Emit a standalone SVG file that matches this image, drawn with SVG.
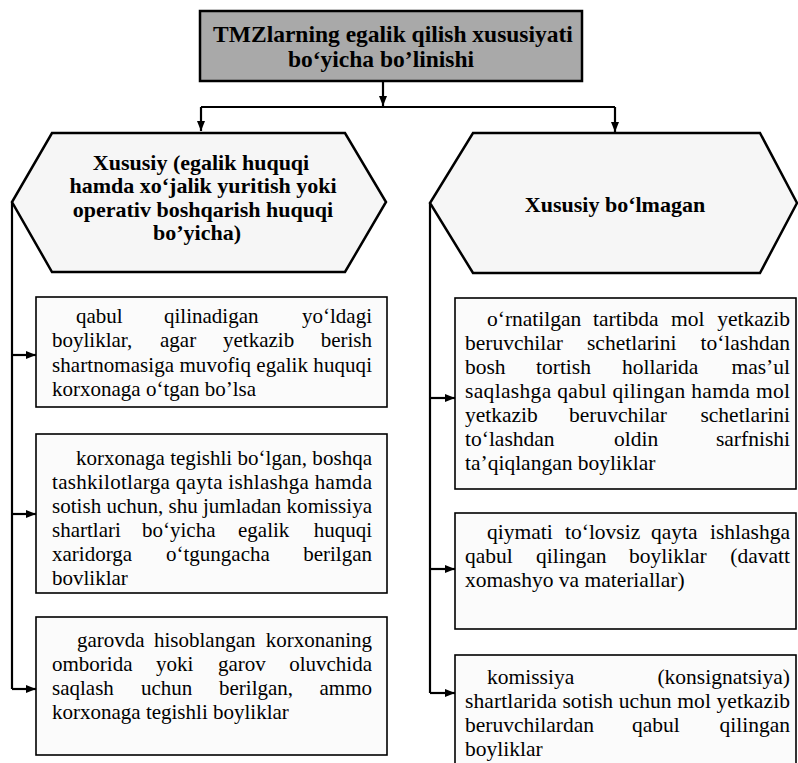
<svg xmlns="http://www.w3.org/2000/svg" width="798" height="763" viewBox="0 0 798 763">
<style>
text{font-family:"Liberation Serif","Times New Roman",serif;fill:#000}
.bg{fill:#ffffff}
.title{fill:#a9a9a9;stroke:#000;stroke-width:2.5}
.hex{fill:#f6f6f6;stroke:#000;stroke-width:2.5;stroke-linejoin:miter}
.box{fill:#fbfbfb;stroke:#000;stroke-width:1.6}
.conn{fill:none;stroke:#000;stroke-width:2.2}
.tt{font-weight:bold;font-size:23.5px;text-anchor:middle}
.ht{font-weight:bold;font-size:22px;text-anchor:middle}
.tl{font-size:21px}
.tr{font-size:21.5px}
.e{text-anchor:end}
</style>
<defs>
<marker id="arr" markerUnits="userSpaceOnUse" markerWidth="12" markerHeight="10" refX="10" refY="4" orient="auto">
<path d="M0,0 L10,4 L0,8 Z" fill="#000"/>
</marker>
</defs>
<rect class="bg" x="0" y="0" width="798" height="763"/>

<g id="connectors">
<path class="conn" d="M383,82 V106" marker-end="url(#arr)"/>
<path class="conn" d="M201,107 H615"/>
<path class="conn" d="M201,107 V131" marker-end="url(#arr)"/>
<path class="conn" d="M615,107 V132" marker-end="url(#arr)"/>
<path class="conn" d="M12,202 V689"/>
<path class="conn" d="M12,355 H36" marker-end="url(#arr)"/>
<path class="conn" d="M12,514 H36" marker-end="url(#arr)"/>
<path class="conn" d="M12,689 H36" marker-end="url(#arr)"/>
<path class="conn" d="M430,203 V693"/>
<path class="conn" d="M430,398 H455" marker-end="url(#arr)"/>
<path class="conn" d="M430,569 H455" marker-end="url(#arr)"/>
<path class="conn" d="M430,693 H455" marker-end="url(#arr)"/>
</g>

<g id="root">
<rect class="title" x="200" y="11" width="382" height="70"/>
<text class="tt" x="393" y="42">TMZlarning egalik qilish xususiyati</text>
<text class="tt" x="381" y="67">bo‘yicha bo’linishi</text>
</g>

<g id="xususiy">
<polygon class="hex" points="52,133 345,133 386,202 345,272 52,272 12,202"/>
<text class="ht" x="201" y="170">Xususiy (egalik huquqi</text>
<text class="ht" x="203" y="193">hamda xo‘jalik yuritish yoki</text>
<text class="ht" x="203" y="217">operativ boshqarish huquqi</text>
<text class="ht" x="197" y="240">bo’yicha)</text>
</g>

<g id="xususiy-bolmagan">
<polygon class="hex" points="473,133 760,133 797,203 760,273 473,273 430,203"/>
<text class="ht" x="615" y="212">Xususiy bo‘lmagan</text>
</g>

<g id="l1">
<rect class="box" x="36" y="297" width="351" height="110"/>
<text class="tl" y="323"><tspan x="76">qabul</tspan><tspan x="164">qilinadigan</tspan><tspan x="372" class="e">yo‘ldagi</tspan></text>
<text class="tl" y="347"><tspan x="52">boyliklar,</tspan><tspan x="160">agar</tspan><tspan x="223">yetkazib</tspan><tspan x="372" class="e">berish</tspan></text>
<text class="tl" x="52" y="372" textLength="320" lengthAdjust="spacing">shartnomasiga muvofiq egalik huquqi</text>
<text class="tl" x="52" y="396">korxonaga o‘tgan bo’lsa</text>
</g>

<g id="l2">
<rect class="box" x="36" y="434" width="351" height="159"/>
<text class="tl" x="76" y="465" textLength="296" lengthAdjust="spacing">korxonaga tegishli bo‘lgan, boshqa</text>
<text class="tl" x="52" y="489" textLength="320" lengthAdjust="spacing">tashkilotlarga qayta ishlashga hamda</text>
<text class="tl" x="52" y="513" textLength="320" lengthAdjust="spacing">sotish uchun, shu jumladan komissiya</text>
<text class="tl" y="537"><tspan x="52">shartlari</tspan><tspan x="142">bo‘yicha</tspan><tspan x="238">egalik</tspan><tspan x="372" class="e">huquqi</tspan></text>
<text class="tl" y="561"><tspan x="52">xaridorga</tspan><tspan x="166">o‘tgungacha</tspan><tspan x="372" class="e">berilgan</tspan></text>
<text class="tl" x="52" y="585">bovliklar</text>
</g>

<g id="l3">
<rect class="box" x="36" y="617" width="351" height="138"/>
<text class="tl" y="647"><tspan x="77">garovda</tspan><tspan x="154">hisoblangan</tspan><tspan x="372" class="e">korxonaning</tspan></text>
<text class="tl" y="671"><tspan x="52">omborida</tspan><tspan x="156">yoki</tspan><tspan x="218">garov</tspan><tspan x="372" class="e">oluvchida</tspan></text>
<text class="tl" y="695"><tspan x="52">saqlash</tspan><tspan x="141">uchun</tspan><tspan x="219">berilgan,</tspan><tspan x="372" class="e">ammo</tspan></text>
<text class="tl" x="52" y="719">korxonaga tegishli boyliklar</text>
</g>

<g id="r1">
<rect class="box" x="455" y="298" width="341" height="191"/>
<text class="tr" y="326"><tspan x="487">o‘rnatilgan</tspan><tspan x="593">tartibda</tspan><tspan x="671">mol</tspan><tspan x="790" class="e">yetkazib</tspan></text>
<text class="tr" y="350"><tspan x="465">beruvchilar</tspan><tspan x="587">schetlarini</tspan><tspan x="790" class="e">to‘lashdan</tspan></text>
<text class="tr" y="374"><tspan x="465">bosh</tspan><tspan x="536">tortish</tspan><tspan x="622">hollarida</tspan><tspan x="790" class="e">mas’ul</tspan></text>
<text class="tr" x="465" y="398" textLength="325" lengthAdjust="spacing">saqlashga qabul qilingan hamda mol</text>
<text class="tr" y="422"><tspan x="465">yetkazib</tspan><tspan x="569">beruvchilar</tspan><tspan x="790" class="e">schetlarini</tspan></text>
<text class="tr" y="446"><tspan x="465">to‘lashdan</tspan><tspan x="614">oldin</tspan><tspan x="790" class="e">sarfnishi</tspan></text>
<text class="tr" x="465" y="470">ta’qiqlangan boyliklar</text>
</g>

<g id="r2">
<rect class="box" x="455" y="513" width="341" height="116"/>
<text class="tr" y="539"><tspan x="487">qiymati</tspan><tspan x="565">to‘lovsiz</tspan><tspan x="651">qayta</tspan><tspan x="790" class="e">ishlashga</tspan></text>
<text class="tr" y="563"><tspan x="465">qabul</tspan><tspan x="536">qilingan</tspan><tspan x="629">boyliklar</tspan><tspan x="790" class="e">(davatt</tspan></text>
<text class="tr" x="465" y="587">xomashyo va materiallar)</text>
</g>

<g id="r3">
<rect class="box" x="455" y="655" width="341" height="120"/>
<text class="tr" y="684"><tspan x="487">komissiya</tspan><tspan x="790" class="e">(konsignatsiya)</tspan></text>
<text class="tr" x="465" y="708" textLength="325" lengthAdjust="spacing">shartlarida sotish uchun mol yetkazib</text>
<text class="tr" y="732"><tspan x="465">beruvchilardan</tspan><tspan x="632">qabul</tspan><tspan x="790" class="e">qilingan</tspan></text>
<text class="tr" x="465" y="756">boyliklar</text>
</g>
</svg>
